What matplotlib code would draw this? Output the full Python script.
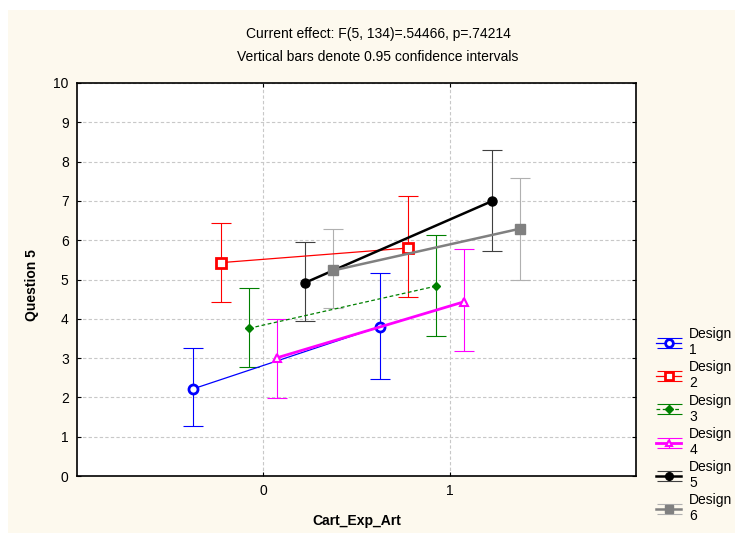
import matplotlib
matplotlib.use("Agg")
import matplotlib.pyplot as plt
from matplotlib.patches import Rectangle
from matplotlib.lines import Line2D
from matplotlib.container import ErrorbarContainer
from matplotlib.legend_handler import HandlerErrorbar

plt.rcParams['font.family'] = ['Liberation Sans', 'DejaVu Sans']

# Cart_Exp_Art levels and per-design horizontal offsets
levels = [0, 1]
offsets = [-0.375, -0.225, -0.075, 0.075, 0.225, 0.375]
designs = ["Design\n1", "Design\n2", "Design\n3", "Design\n4", "Design\n5", "Design\n6"]

# means of Question 5 at level 0 and level 1
means = [
    [2.22, 3.80],
    [5.43, 5.80],
    [3.76, 4.83],
    [3.01, 4.43],
    [4.92, 6.99],
    [5.23, 6.29],
]
# 0.95 confidence limits
ci_low = [
    [1.28, 2.48],
    [4.43, 4.56],
    [2.77, 3.55],
    [1.99, 3.19],
    [3.94, 5.73],
    [4.27, 5.00],
]
ci_high = [
    [3.25, 5.17],
    [6.45, 7.13],
    [4.78, 6.12],
    [4.00, 5.77],
    [5.95, 8.30],
    [6.28, 7.58],
]

colors = ["#0000FF", "#FF0000", "#008000", "#FF00FF", "#000000", "#808080"]
ecolors = ["#0000FF", "#FF0000", "#008000", "#FF00FF", "#404040", "#B0B0B0"]
markers = ["o", "s", "D", "^", "o", "s"]
msizes = [6.5, 6.5, 4.5, 5.5, 6.5, 6.5]
mfaces = ["white", "white", "#008000", "white", "black", "#808080"]
mewidths = [2.0, 2.0, 1.0, 1.5, 1.0, 1.0]
lstyles = ["-", "-", (0, (3, 2)), "-", "-", "-"]
lwidths = [0.9, 0.9, 0.9, 2.0, 1.8, 1.8]


class WideCapHandler(HandlerErrorbar):
    # legend caps as wide as the handle line
    def create_artists(self, *args, **kwargs):
        arts = super().create_artists(*args, **kwargs)
        for a in arts:
            if isinstance(a, Line2D) and a.get_marker() == "_":
                a.set_markersize(18)
                a.set_markeredgewidth(0.8)
            elif isinstance(a, Line2D) and a.get_marker() not in ("None", None, ""):
                a.set_markersize(a.get_markersize() * 0.85)
        return arts


W, H = 735, 533
fig = plt.figure(figsize=(W / 100, H / 100), dpi=100)
fig.patch.set_facecolor("white")
fig.patches.append(Rectangle((8 / W, 0), 1, (H - 10) / H, transform=fig.transFigure,
                             facecolor="#FDF9EE", edgecolor="none", zorder=-10))

ax = fig.add_axes([77 / W, (H - 476) / H, (636 - 77) / W, (476 - 83) / H])
ax.set_facecolor("white")

handles = []
for i in range(6):
    xs = [lv + offsets[i] for lv in levels]
    yerr = [[means[i][k] - ci_low[i][k] for k in range(2)],
            [ci_high[i][k] - means[i][k] for k in range(2)]]
    h = ax.errorbar(xs, means[i], yerr=yerr, color=colors[i], ecolor=ecolors[i],
                    elinewidth=0.8, capsize=7.5, capthick=0.8,
                    linestyle=lstyles[i], linewidth=lwidths[i],
                    marker=markers[i], markersize=msizes[i], markerfacecolor=mfaces[i],
                    markeredgecolor=colors[i],
                    label=designs[i], zorder=3)
    # thicker marker edge without touching the caps
    h.lines[0].set_markeredgewidth(mewidths[i])
    handles.append(h)

ax.set_xlim(-1, 2)
ax.set_ylim(0, 10)
ax.set_xticks(levels)
ax.set_yticks(range(0, 11))
ax.grid(True, color="#C8C8C8", linestyle=(0, (3, 2)), linewidth=0.8)
ax.set_axisbelow(True)
ax.tick_params(direction="in", length=3, top=True, right=True, labelsize=10,
               colors="#000000", pad=6)
for sp in ax.spines.values():
    sp.set_linewidth(1.2)
    sp.set_color("black")

ax.set_xlabel("Cart_Exp_Art", fontsize=10, fontweight="bold", va="center")
ax.set_ylabel("Question 5", fontsize=10, fontweight="bold", va="center")
ax.xaxis.set_label_coords(0.5, -45 / 393)
ax.yaxis.set_label_coords(-45 / 559, (476 - 285) / 393)

fig.text(378 / W, 1 - 34 / H, "Current effect: F(5, 134)=.54466, p=.74214",
         ha="center", va="center", fontsize=10)
fig.text(378 / W, 1 - 57 / H, "Vertical bars denote 0.95 confidence intervals",
         ha="center", va="center", fontsize=10)

fig.legend(handles=handles, loc="upper left", bbox_to_anchor=(656 / W, 1 - 327 / H),
           frameon=False, fontsize=10, handlelength=1.8, handletextpad=0.6,
           labelspacing=0.22, borderaxespad=0, borderpad=0,
           handler_map={ErrorbarContainer: WideCapHandler(xerr_size=0.5, yerr_size=0.36)})

fig.savefig("out.png", dpi=100, facecolor=fig.get_facecolor())
